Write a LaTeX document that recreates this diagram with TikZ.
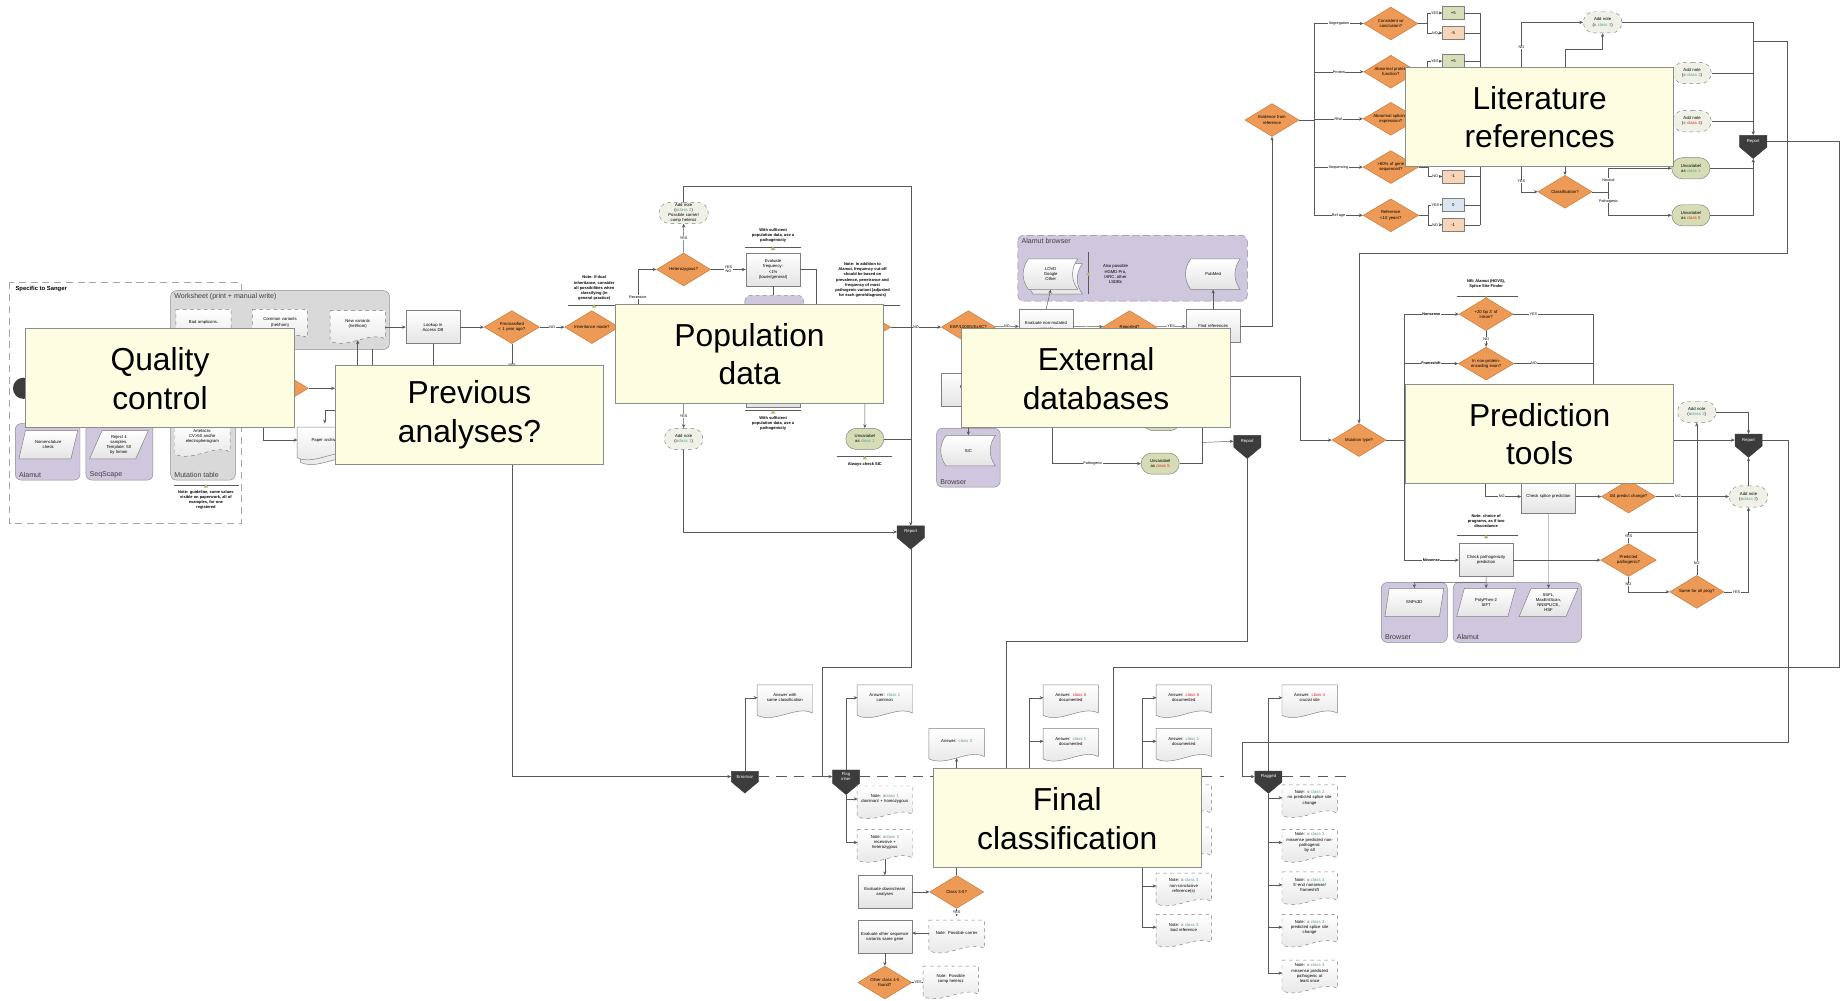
\documentclass[tikz,border=0pt]{standalone}
\usepackage{fontspec}
\setmainfont{Liberation Sans}
\usetikzlibrary{shapes.geometric, shapes.misc, shapes.symbols, arrows.meta}

\definecolor{yellowbg}{HTML}{FDFDE2}
\definecolor{boxline}{HTML}{8C8C8C}
\definecolor{decorange}{HTML}{EC9A56}
\definecolor{decline}{HTML}{C8783A}
\definecolor{procline}{HTML}{7F7F7F}
\definecolor{procgray}{HTML}{E4E4E4}
\definecolor{termgreen}{HTML}{D6DCB4}
\definecolor{termnote}{HTML}{EFF0E6}
\definecolor{termline}{HTML}{808080}
\definecolor{darknode}{HTML}{3C3C3C}
\definecolor{purplebg}{HTML}{CFC7DE}
\definecolor{wsgray}{HTML}{D9D9D9}
\definecolor{lbltext}{HTML}{404040}
\definecolor{linegray}{HTML}{595959}
\definecolor{scorepos}{HTML}{D7DFB8}
\definecolor{scoreneg}{HTML}{F8D5B8}
\definecolor{scoreneu}{HTML}{DCE6F1}
\definecolor{clsgreen}{HTML}{5A9E94}
\definecolor{clsred}{HTML}{E8231B}
\definecolor{notemark}{HTML}{B5B86A}

\newcommand{\tinyfont}{\fontsize{3.6}{4.4}\selectfont}
\newcommand{\notefont}{\fontsize{3.4}{4.4}\selectfont\bfseries}
\newcommand{\lblfont}{\fontsize{3.2}{3.8}\selectfont}
\newcommand{\boxfont}{\fontsize{6}{7}\selectfont}
\newcommand{\bigfont}{\fontsize{27}{33}\selectfont}
\newcommand{\clsg}[1]{\textcolor{clsgreen}{#1}}
\newcommand{\clsr}[1]{\textcolor{clsred}{#1}}

\pgfdeclarelayer{front}
\pgfsetlayers{main,front}

% documento con borde ondulado
\newcommand{\docpath}[3][]{%
  \path[doc_shape,#1] (#2-23.5,#3-14) -- (#2+23.5,#3-14) -- (#2+23.5,#3+10)
    .. controls (#2+10,#3+3) and (#2-8,#3+19) .. (#2-23.5,#3+12) -- cycle;}
\newcommand{\docnode}[5][]{%
  \docpath[#1]{#3}{#4}%
  \node[doc_text] (#2) at (#3,#4) {#5};}
% datos almacenados
\newcommand{\storepath}[2]{%
  \path[doc_shape] (#1-19,#2-13) -- (#1+23,#2-13)
    .. controls (#1+17,#2-5) and (#1+17,#2+5) .. (#1+23,#2+13) -- (#1-19,#2+13)
    .. controls (#1-25,#2+5) and (#1-25,#2-5) .. (#1-19,#2-13) -- cycle;}
\newcommand{\storenode}[4]{%
  \storepath{#2}{#3}%
  \node[store_text] (#1) at (#2,#3) {#4};}
% marca de nota
\newcommand{\notetri}[2]{\fill[notemark] (#1-2,#2+2.5) -- (#1+2,#2+2.5) -- (#1,#2-0.5) -- cycle;}

\begin{document}
\begin{tikzpicture}[x=1pt, y=-1pt, line width=0.5pt, >={Stealth[length=3.2pt,width=2.8pt]}]
  \tikzset{
    yellow_box/.style={rectangle, draw=boxline, line width=0.8pt, fill=yellowbg, minimum width=228pt, minimum height=84pt, align=center, font=\bigfont},
    orange_dec/.style={diamond, aspect=1.7, fill=decorange, draw=decline, inner sep=0pt, minimum width=46pt, minimum height=28pt, text width=34pt, align=center, font=\tinyfont},
    proc_box/.style={rectangle, draw=procline, top color=white, bottom color=procgray, inner sep=1pt, text width=44pt, minimum height=28pt, align=center, font=\tinyfont},
    doc_shape/.style={draw=procline, top color=white, bottom color=procgray},
    doc_text/.style={inner sep=1pt, text width=44pt, minimum height=28pt, align=center, font=\tinyfont, yshift=3pt},
    store_text/.style={inner sep=1pt, text width=36pt, minimum height=26pt, align=center, font=\tinyfont},
    data_box/.style={trapezium, trapezium left angle=65, trapezium right angle=115, trapezium stretches=true, draw=procline, top color=white, bottom color=procgray, minimum width=50pt, minimum height=24pt, inner sep=0pt, align=center, font=\tinyfont},
    green_term/.style={rounded rectangle, draw=termline, fill=termgreen, text width=30pt, minimum height=18pt, inner sep=0.5pt, align=center, font=\tinyfont},
    note_term/.style={rounded rectangle, draw=termline, dashed, fill=termnote, text width=30pt, minimum height=18pt, inner sep=0.5pt, align=center, font=\tinyfont},
    report_node/.style={signal, signal to=south, signal pointer angle=100, fill=darknode, draw=darknode, text=white, font=\tinyfont, minimum width=23pt, minimum height=15pt, inner sep=0.5pt, align=center},
    score_box/.style={rectangle, draw=procline, minimum width=18pt, minimum height=11pt, inner sep=0pt, font=\tinyfont},
    note_txt/.style={align=center, font=\notefont, inner sep=0pt},
    lbl/.style={fill=white, inner sep=0.4pt, font=\lblfont},
    lbl_b/.style={fill=white, inner sep=0.4pt, font=\lblfont\bfseries},
    box_lbl/.style={font=\boxfont, text=lbltext, inner sep=1pt},
    purple_box/.style={fill=purplebg, draw=boxline, rounded corners=5pt},
    gray_box/.style={fill=wsgray, draw=boxline, rounded corners=5pt},
    arr/.style={->, draw=linegray},
    conn/.style={draw=linegray},
    lane/.style={draw=linegray, dash pattern=on 9pt off 6pt}
  }
  \useasboundingbox (0,0) rectangle (1568,850);

  % Cajas grandes (capa de delante)
  \begin{pgfonlayer}{front}
    \node[yellow_box] (qc) at (136,321.5) {Quality\\control};
    \node[yellow_box] (prev) at (399,352.5) {Previous\\analyses?};
    \node[yellow_box] (pop) at (637,301) {Population\\data};
    \node[yellow_box] (ext) at (931.5,321.5) {External\\databases};
    \node[yellow_box] (lit) at (1308.5,99.5) {Literature\\references};
    \node[yellow_box] (pred) at (1308.5,369) {Prediction\\tools};
    \node[yellow_box] (fin) at (907,695.5) {Final\\classification};
  \end{pgfonlayer}

  % Contenedores
  \draw[gray!70, dash pattern=on 6pt off 4pt] (8,240) rectangle (205,445);
  \node[note_txt, font=\fontsize{5}{6}\selectfont\bfseries, anchor=north west] (sanger_lbl) at (13,243) {Specific to Sanger};
  \draw[gray_box] (145,247) rectangle (331,297);
  \node[box_lbl, anchor=north west] (ws_lbl) at (147,248) {Worksheet (print + manual write)};
  \draw[gray_box] (145,300) rectangle (200,408);
  \node[box_lbl, anchor=south west] (mt_lbl) at (147,407) {Mutation table};
  \draw[purple_box] (13,360) rectangle (68,408);
  \node[box_lbl, anchor=south west] (alamut_lbl) at (15,407) {Alamut};
  \draw[purple_box] (73,360) rectangle (130,408);
  \node[box_lbl, anchor=south west] (seqscape_lbl) at (75,407) {SeqScape};
  \draw[purple_box, dashed] (633,251) rectangle (683,300);
  \draw[purple_box, dash pattern=on 6pt off 3pt] (865,200) rectangle (1060,256);
  \node[box_lbl, anchor=north west] (ab_lbl) at (867,201) {Alamut browser};
  \draw[purple_box] (796,364) rectangle (850,414);
  \node[box_lbl, anchor=south west] (br_lbl) at (798,413) {Browser};
  \draw[purple_box] (1174,495) rectangle (1230,546);
  \node[box_lbl, anchor=south west] (br2_lbl) at (1176,545) {Browser};
  \draw[purple_box] (1235,495) rectangle (1344,546);
  \node[box_lbl, anchor=south west] (al2_lbl) at (1237,545) {Alamut};

  % Control de calidad y analisis previos
  \node[circle, fill=darknode, minimum size=18pt] (start) at (20,330) {};
  \node[font=\tinyfont] (summary) at (70,284) {Summary};
  \docnode[dashed]{bad_amp}{173}{277}{Bad amplicons.}
  \docnode[dashed]{common_var}{238}{277}{Common variants\\(het/hom)}
  \docnode[dashed]{new_var}{304}{278}{New variants\\(het/hom)}
  \docnode[dashed]{artefacts}{172}{374}{Artefacts:\\CV>50 and/or\\electropherogram}
  \node[data_box] (nomencl) at (41,378) {Nomenclature\\check};
  \node[data_box] (reject) at (101,378) {Reject 4\\samples.\\Template: 50\\by Inmon};
  \draw[conn] (148,412) -- (203,412);
  \notetri{175}{412}
  \node[note_txt] (note_mt) at (175,425) {Note: guideline, some values\\visible on paperwork, all of\\examples, for one\\registered};
  \node[orange_dec] (qc_dec) at (239,330) {};
  \docpath{279}{381}
  \docnode{paper}{276}{377}{Paper archive}
  \node[proc_box] (lookup) at (368,278) {Lookup in\\Access DB};
  \node[orange_dec] (precl) at (435,278) {Preclassified\\< 1 year ago?};
  \node[orange_dec] (inher) at (503,278) {Inheritance mode?};
  \node[note_txt] (note_inh) at (505,245) {Note: If dual\\inheritance, consider\\all possibilities when\\classifying (in\\general practice)};
  \draw[conn] (483,259) -- (527,259);
  \notetri{505}{259}

  % Datos de poblacion
  \node[orange_dec] (heter) at (581,229) {Heterozygous?};
  \node[note_term] (add_note_2p) at (581,181) {Add note\\(=\clsg{class 2})\\Possible carrier/\\comp heteroz};
  \node[proc_box] (eval_freq) at (657,229) {Evaluate\\frequency:\\<1\%\\(lower/general)};
  \node[note_txt] (note_fa) at (657,200) {With sufficient\\population data, use a\\pathogenicity};
  \draw[conn] (633,210) -- (681,210);
  \notetri{657}{210}
  \node[proc_box] (eval_freq_b) at (657,332) {Evaluate\\frequency};
  \draw[conn] (633,349) -- (681,349);
  \notetri{657}{349}
  \node[note_txt] (note_fb) at (657,360) {With sufficient\\population data, use a\\pathogenicity};
  \node[note_term] (add_note_1p) at (581,373) {Add note\\(=\clsg{class 1})};
  \node[green_term] (unvar_1p) at (735,373) {Unvariabel\\as \clsg{class 1}};
  \draw[conn] (711,388) -- (758,388);
  \notetri{735}{388}
  \node[note_txt] (note_sic) at (735,395) {Always check SIC};
  \node[note_txt] (note_af) at (733,238) {Note: In addition to\\Alamut, frequency cut-off\\should be based on\\prevalence, penetrance and\\frequency of most\\pathogenic variant (adjusted\\for each gene/diagnosis)};
  \draw[conn] (703,259) -- (765,259);
  \node[orange_dec] (pop_dec) at (734,278) {};
  \node[report_node] (pop_report) at (774,452) {Report};

  % Bases de datos externas
  \node[orange_dec] (esp) at (823,278) {ESP/1000G/ExAC?};
  \node[proc_box] (eval_nm) at (889,277) {Evaluate non-mutated\\variants};
  \node[orange_dec] (reported) at (960,278) {Reported?};
  \node[proc_box] (find_ref) at (1031,277) {Find references};
  \node[proc_box] (eval_mut) at (823,331) {Evaluate\\mutated};
  \storepath{897}{237}
  \storenode{lovd}{893}{233}{LOVD\\Google\\Other}
  \draw[conn] (925,214) -- (925,250);
  \fill[notemark] (923,233) -- (926,231) -- (926,235) -- cycle;
  \node[font=\tinyfont, align=center] (also_txt) at (948,233) {Also possible\\HGMD Pro,\\IARC, other\\LSDBs};
  \storenode{pubmed}{1031}{233}{PubMed}
  \storenode{sic}{823}{383}{SIC}
  \node[green_term] (unvar_1e) at (987,357) {Unvariabel\\as \clsg{class 1}};
  \node[green_term] (unvar_5e) at (986,394) {Unvariabel\\as \clsr{class 5}};
  \node[report_node] (ext_report) at (1060,375) {Report};

  % Referencias de literatura
  \node[orange_dec] (evid) at (1081,102) {Evidence from\\reference};
  \node[orange_dec] (seg_dec) at (1182,20) {Consistent w/\\conclusion?};
  \node[orange_dec] (prot_dec) at (1182,61) {Abnormal protein\\function?};
  \node[orange_dec] (rna_dec) at (1182,101) {Abnormal splicing/\\expression?};
  \node[orange_dec] (sq_dec) at (1182,142) {>80\% of gene\\sequenced?};
  \node[orange_dec] (rage_dec) at (1182,183) {Reference\\<10 years?};
  \coordinate (lit_bus_t) at (1117,20);
  \coordinate (lit_bus_b) at (1117,183);
  \coordinate (lit_bus_r) at (1258,11);
  \coordinate (lit_bus_rb) at (1258,191);
  \node[note_term] (add_note_3l) at (1362,19) {Add note\\(= \clsg{class 3})};
  \node[note_term] (add_note_2l) at (1438,62) {Add note\\(= \clsg{class 2})};
  \node[note_term] (add_note_4l) at (1438,103) {Add note\\(= \clsr{class 4})};
  \node[orange_dec] (classif) at (1330,163) {Classification?};
  \node[green_term] (unvar_1l) at (1437,143) {Unvariabel\\as \clsg{class 1}};
  \node[green_term] (unvar_5l) at (1437,183) {Unvariabel\\as \clsr{class 5}};
  \node[report_node] (lit_report) at (1490,120) {Report};

  % Herramientas de prediccion
  \node[orange_dec] (mutype) at (1155,374) {Mutation type?};
  \coordinate (pred_bus_t) at (1193,267);
  \coordinate (pred_bus_b) at (1193,476);
  \node[note_txt] (note_pa) at (1263,241) {NB: Alamut (HGVS),\\Splice Site Finder};
  \draw[conn] (1238,252) -- (1290,252);
  \notetri{1263}{252}
  \node[orange_dec] (d20) at (1263,267) {+20 bp 3' of\\intron?};
  \node[orange_dec] (dnpe) at (1263,309) {In non-protein-\\encoding exon?};
  \node[proc_box] (chk_splice) at (1316,422) {Check splice prediction};
  \node[orange_dec] (d34) at (1384,422) {3/4 predict change?};
  \node[note_term] (add_note_up) at (1442,350) {Add note\\(=\clsg{class 2})};
  \node[note_term] (add_note_lo) at (1486,422) {Add note\\(=\clsg{class 3})};
  \node[report_node] (pred_report) at (1486,374) {Report};
  \node[note_txt] (note_pb) at (1263,443) {Note: choice of\\programs, as if two\\discordance};
  \draw[conn] (1238,455) -- (1290,455);
  \notetri{1263}{455}
  \node[proc_box] (chk_path) at (1263,476) {Check pathogenicity\\prediction};
  \node[orange_dec] (dpp) at (1384,476) {Predicted\\pathogenic?};
  \node[orange_dec] (dsame) at (1442,503) {Same for all prog?};
  \node[data_box] (snps) at (1202,512) {SNPs3D};
  \node[data_box] (polyph) at (1263,512) {PolyPhen-2\\SIFT};
  \node[data_box] (ssf) at (1316,512) {SSFL,\\MaxEntScan,\\NNSPLICE,\\HSF};

  % Clasificacion final
  \node[report_node] (error_var) at (633,660) {Error/var};
  \node[report_node] (flag_inher) at (719,660) {Flag\\inher};
  \node[report_node] (rep_a) at (875,660) {Report};
  \node[report_node] (rep_b) at (971,660) {Report};
  \node[report_node] (flagged) at (1078,660) {Flagged};
  \docnode{ans_same}{667}{596}{Answer with\\same classification}
  \docnode{ans_c1}{752}{596}{Answer: \clsg{class 1}\\common}
  \docnode{ans_c3}{813}{633}{Answer: \clsg{class 3}}
  \docnode[dashed]{note_dom}{752}{682}{Note: =\clsg{class 1}\\dominant + homozygous}
  \docnode[dashed]{note_rec}{752}{719}{Note: =\clsg{class 3}\\recessive +\\heterozygous}
  \node[proc_box] (eval_ds) at (752,758) {Evaluate downstream\\analyses};
  \node[orange_dec] (d35) at (813,758) {Class 3-5?};
  \docnode[dashed]{note_car}{813}{796}{Note: Possible carrier}
  \node[proc_box] (eval_os) at (752,796) {Evaluate other sequence\\variants same gene};
  \node[orange_dec] (d45) at (752,835) {Other class 4-5\\found?};
  \docnode[dashed]{note_comp}{808}{835}{Note: Possible\\comp heteroz}
  \docnode{ans_a5}{910}{596}{Answer: \clsr{class 5}\\documented}
  \docnode{ans_a1}{910}{633}{Answer: \clsg{class 1}\\documented}
  \docnode{ans_b5}{1006}{596}{Answer: \clsr{class 5}\\documented}
  \docnode{ans_b1}{1006}{633}{Answer: \clsg{class 1}\\documented}
  \docnode[dashed]{note_b1}{1006}{681}{Note: = \clsr{class 4}\\one reference}
  \docnode[dashed]{note_b2}{1006}{717}{Note: = \clsg{class 3}\\conflicting\\references}
  \docnode[dashed]{note_b3}{1006}{756}{Note: = \clsg{class 3}\\non-conclusive\\reference(s)}
  \docnode[dashed]{note_b4}{1006}{791}{Note: = \clsg{class 3}\\bad reference}
  \docnode{ans_c4}{1113}{596}{Answer: \clsr{class 4}\\crucial site}
  \docnode[dashed]{nf_1}{1113}{681}{Note: = \clsg{class 2}\\no predicted splice site\\change}
  \docnode[dashed]{nf_2}{1113}{719}{Note: = \clsg{class 2}\\missense predicted non-\\pathogenic\\by all}
  \docnode[dashed]{nf_3}{1113}{755}{Note: = \clsg{class 3}\\5'-end nonsense/\\frameshift}
  \docnode[dashed]{nf_4}{1113}{791}{Note: = \clsg{class 3}\\predicted splice site\\change}
  \docnode[dashed]{nf_5}{1113}{830}{Note: = \clsg{class 3}\\missense predicted\\pathogenic at\\least once}

  % Conexiones: control de calidad y analisis previos
  \coordinate (qc_drop) at (224,363);
  \coordinate (prev_pa) at (285,349);
  \coordinate (ws_in) at (316,297);
  \draw[arr] (qc_dec) -- (qc_dec -| prev.west);
  \draw[arr] (qc_drop) |- (paper.west);
  \draw[arr] (prev_pa) -| (paper.north);
  \draw[arr] (prev.north -| new_var) -- (new_var.south);
  \draw[conn] (prev.north -| ws_in) -- (ws_in);
  \draw[conn] (prev.north -| lookup) -- (lookup.south);
  \draw[arr] (new_var.east |- lookup) -- (lookup);
  \draw[arr] (lookup) -- (precl);
  \draw[arr] (precl) -- node[lbl]{NO} (inher);
  \draw[arr] (precl.south) |- node[lbl,pos=0.025]{YES} (error_var.west);

  % Conexiones: datos de poblacion
  \coordinate (rec_x) at (542,229);
  \coordinate (pop_top) at (774,158);
  \coordinate (ef_d) at (657,251);
  \coordinate (ef_r) at (694,259);
  \coordinate (flag_j) at (699,567);
  \draw[arr] (pop.north -| rec_x) -- node[lbl,pos=0.2]{Recessive} (rec_x) -- (heter);
  \draw[arr] (heter) -- node[lbl]{YES} (add_note_2p);
  \draw[arr] (heter) -- node[lbl, align=center]{YES\\NO} (eval_freq);
  \draw[conn] (eval_freq.south) -- (ef_d);
  \draw[conn] (eval_freq.east) -| (ef_r);
  \draw[arr] (add_note_2p.north) |- (pop_top) -- (pop_report.north);
  \draw[arr] (pop.south -| add_note_1p) -- node[lbl]{YES} (add_note_1p);
  \draw[arr] (add_note_1p.south) |- (pop_report.west);
  \draw[arr] (pop.south -| unvar_1p) -- (unvar_1p);
  \draw[conn] (unvar_1p.east) -- (unvar_1p.east -| pop_report);
  \draw[arr] (pop_dec) -- node[lbl]{NO} (esp);
  \draw[arr] (pop_report.south) |- (flag_j) |- (flag_inher.west);

  % Conexiones: bases de datos externas
  \coordinate (ext_pat) at (894,364);
  \coordinate (ext_j) at (1022,376);
  \coordinate (fin_a) at (855,545);
  \coordinate (ext_out) at (1045,320);
  \coordinate (ext_outr) at (1105,320);
  \draw[arr] (esp) -- node[lbl]{NO} (eval_nm);
  \draw[arr] (eval_nm) -- (reported);
  \draw[arr] (reported) -- node[lbl]{YES} (find_ref);
  \draw[arr] (eval_nm.north) -- (lovd.south);
  \draw[arr] (find_ref.north) -- (pubmed.south);
  \draw[arr] (esp.south) -- (eval_mut.north);
  \draw[arr] (eval_mut.south) -- (sic.north);
  \draw[arr] (find_ref.east) -| (evid.south);
  \draw[arr] (ext_pat) |- node[lbl,pos=0.73]{Pathogenic} (unvar_5e.west);
  \draw[conn] (unvar_1e.east) -| (ext_j);
  \draw[conn] (unvar_5e.east) -| (ext_j);
  \draw[arr] (ext_j) -- (ext_report.west);
  \draw[arr] (ext_report.south) |- (fin_a) |- (rep_a.west);
  \draw[arr] (ext_out) -- (ext_outr) |- (mutype.west);

  % Conexiones: literatura
  \draw[conn] (lit_bus_t) -- (lit_bus_b);
  \draw[conn] (lit_bus_r) -- (lit_bus_rb);
  \draw[conn] (evid.east) -- (evid.east -| lit_bus_t);
  \foreach \sname/\sy/\stext/\spos/\sneg/\scol in {seg/20/Segregation/+5/-5/scorepos, prot/61/Protein/+5/-5/scorepos, rna/101/RNA/+5/-5/scorepos, sq/142/Sequencing/+1/-1/scorepos, rage/183/Ref age/0/-1/scoreneu}{
    \node[score_box, fill=\scol] (\sname_yes) at (1235,\sy-9) {\spos};
    \node[score_box, fill=scoreneg] (\sname_no) at (1235,\sy+8) {\sneg};
    \draw[arr] (\sname_dec -| lit_bus_t) -- node[lbl]{\stext} (\sname_dec);
    \draw[arr] (\sname_dec.east) -- ++(8,0) |- node[lbl,pos=0.75]{YES} (\sname_yes.west);
    \draw[arr] (\sname_dec.east) -- ++(8,0) |- node[lbl,pos=0.75]{NO} (\sname_no.west);
    \draw[conn] (\sname_yes.east) -- (\sname_yes.east -| lit_bus_r);
    \draw[conn] (\sname_no.east) -- (\sname_no.east -| lit_bus_r);
  }
  \coordinate (lit_no) at (1293,57);
  \coordinate (lit_up) at (1330,57);
  \coordinate (lit_upb) at (1330,42);
  \coordinate (lit_yes) at (1293,142);
  \coordinate (cl_j) at (1367,163);
  \coordinate (lit_j) at (1490,35);
  \coordinate (lit_jr) at (1519,35);
  \coordinate (lit_jd) at (1519,215);
  \coordinate (lit_out) at (1563,120);
  \coordinate (lit_outd) at (1563,567);
  \coordinate (fin_b) at (946,567);
  \draw[arr] (lit_no) |- node[lbl,pos=0.22]{NO} (add_note_3l.west);
  \draw[arr] (lit_up) -- (lit_upb) -| (add_note_3l.south);
  \draw[arr] (lit_yes) |- node[lbl,pos=0.29]{YES} (classif.west);
  \draw[arr] (lit.south -| classif) -- (classif.north);
  \draw[conn] (classif.east) -- (cl_j);
  \draw[arr] (cl_j) |- node[lbl,pos=0.25]{Neutral} (unvar_1l.west);
  \draw[arr] (cl_j) |- node[lbl,pos=0.2]{Pathogenic} (unvar_5l.west);
  \draw[arr] (add_note_3l.east) -| (lit_report.north);
  \draw[conn] (add_note_2l.east) -- (add_note_2l.east -| lit_report);
  \draw[conn] (add_note_4l.east) -- (add_note_4l.east -| lit_report);
  \draw[conn] (unvar_1l.east) -- (unvar_1l.east -| lit_report);
  \draw[arr] (unvar_5l.east) -| (lit_report.south);
  \draw[arr] (lit_j) -- (lit_jr) -- (lit_jd) -| (mutype.north);
  \draw[arr] (lit_report.east) -- (lit_out) -- (lit_outd) -- (fin_b) |- (rep_b.west);

  % Conexiones: prediccion
  \coordinate (pr_yes) at (1354,267);
  \coordinate (pr_no) at (1262,411);
  \coordinate (pp_j) at (1442,452);
  \coordinate (snp_j) at (1202,495);
  \coordinate (pr_out) at (1520,631);
  \coordinate (pr_outl) at (1056,631);
  \draw[conn] (pred_bus_t) -- (pred_bus_b);
  \draw[conn] (mutype.east) -- (mutype.east -| pred_bus_t);
  \draw[arr] (d20 -| pred_bus_t) -- node[lbl_b]{Nonsense} (d20);
  \draw[arr] (dnpe -| pred_bus_t) -- node[lbl_b]{Frameshift} (dnpe);
  \draw[arr] (chk_path -| pred_bus_t) -- node[lbl_b]{Missense} (chk_path);
  \draw[arr] (d20) -- node[lbl]{NO} (dnpe);
  \draw[conn] (d20.east) -- node[lbl,pos=0.25]{YES} (pr_yes) -- (pred.north -| pr_yes);
  \draw[conn] (dnpe.east) -- node[lbl,pos=0.25]{NO} (dnpe.east -| pr_yes);
  \draw[arr] (pr_no) |- node[lbl,pos=0.73]{NO} (chk_splice.west);
  \draw[arr] (chk_splice) -- (d34);
  \draw[arr] (d34) -- node[lbl,pos=0.3]{NO} (add_note_lo);
  \draw[arr] (pred.east |- pred_report) -- (pred_report.west);
  \draw[arr] (add_note_up.east) -| (pred_report.north);
  \draw[arr] (add_note_lo.north) -- (pred_report.south);
  \draw[arr] (chk_path) -- (dpp);
  \draw[conn] (dpp.north) |- node[lbl,pos=0.3]{YES} (pp_j);
  \draw[arr] (dsame.north) -- node[lbl,pos=0.08]{NO} (add_note_up.south);
  \draw[arr] (dpp.south) |- node[lbl,pos=0.25]{NO} (dsame.west);
  \draw[arr] (dsame.east) -| node[lbl,pos=0.25]{YES} (add_note_lo.south);
  \draw[arr] (chk_path.south) -- (polyph.north);
  \draw[arr] (chk_path.south |- snp_j) -- (snp_j) -- (snps.north);
  \draw[arr] (chk_splice.south) -- (ssf.north);
  \draw[arr] (pred_report.east) -| (pr_out) -- (pr_outl) |- (flagged.west);

  % Conexiones: clasificacion final
  \coordinate (lane_a) at (1040,660);
  \coordinate (lane_b) at (1147,660);
  \draw[lane] (error_var.east) -- (flag_inher.west);
  \draw[lane] (flag_inher.east) -- (fin.west |- flag_inher);
  \draw[lane] (fin.east |- flagged) -- (lane_a);
  \draw[lane] (flagged.east) -- (lane_b);
  \draw[arr] (error_var.north) |- (ans_same.west);
  \draw[arr] (flag_inher.north) |- (ans_c1.west);
  \draw[arr] (flag_inher.south) |- (note_dom.west);
  \draw[arr] (flag_inher.south) |- (note_rec.west);
  \draw[arr] (note_rec.south) -- (eval_ds.north);
  \draw[arr] (eval_ds) -- (d35);
  \draw[arr] (d35.north) -- (ans_c3.south);
  \draw[arr] (d35.south) -- node[lbl]{YES} (note_car.north);
  \draw[arr] (note_car.west) -- (note_car.west -| eval_os.east);
  \draw[arr] (eval_os.south) -- (d45.north);
  \draw[arr] (d45.east) -- node[lbl]{YES} (d45.east -| note_comp.west);
  \draw[arr] (rep_a.north) |- (ans_a5.west);
  \draw[arr] (rep_a.north) |- (ans_a1.west);
  \draw[arr] (rep_b.north) |- (ans_b5.west);
  \draw[arr] (rep_b.north) |- (ans_b1.west);
  \draw[arr] (rep_b.south) |- (note_b1.west);
  \draw[arr] (rep_b.south) |- (note_b2.west);
  \draw[arr] (rep_b.south) |- (note_b3.west);
  \draw[arr] (rep_b.south) |- (note_b4.west);
  \draw[arr] (flagged.north) |- (ans_c4.west);
  \draw[arr] (flagged.south) |- (nf_1.west);
  \draw[arr] (flagged.south) |- (nf_2.west);
  \draw[arr] (flagged.south) |- (nf_3.west);
  \draw[arr] (flagged.south) |- (nf_4.west);
  \draw[arr] (flagged.south) |- (nf_5.west);
\end{tikzpicture}
\end{document}
